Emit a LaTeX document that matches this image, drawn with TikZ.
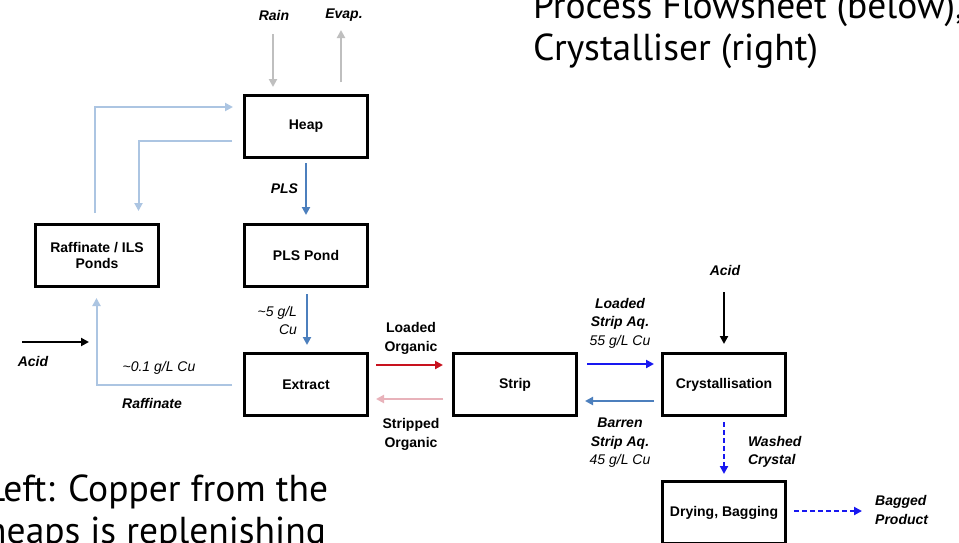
\documentclass[tikz,border=0pt]{standalone}
\usepackage{fontspec}
\setmainfont{Liberation Sans}
\newfontfamily\slidefont{PT Sans}
\usepackage{tikz}
\usetikzlibrary{positioning,arrows.meta,calc}
\usepackage{xcolor}
\definecolor{feedgray}{RGB}{191,191,191}
\definecolor{recyclblue}{RGB}{172,197,226}
\definecolor{plsblue}{RGB}{76,127,189}
\definecolor{orgred}{RGB}{200,18,30}
\definecolor{orgpink}{RGB}{232,178,186}
\definecolor{aqblue}{RGB}{24,24,240}
\tikzset{
  unit/.style={rectangle,draw,line width=3pt,minimum width=123pt,minimum height=62pt,
    inner sep=2pt,align=center,font=\fontsize{14}{16.5}\selectfont\bfseries},
  tag/.style={inner sep=0pt,align=center,text=black,font=\fontsize{14}{18.5}\selectfont\bfseries\itshape},
  val/.style={inner sep=0pt,align=center,text=black,font=\fontsize{14}{18.5}\selectfont\itshape},
  flow/.style={-{Triangle[length=8pt,width=8pt]},line width=2pt},
  slide/.style={inner sep=0pt,anchor=base west,font=\slidefont\fontsize{37.5}{43}\selectfont}
}
\begin{document}
\begin{tikzpicture}[x=1pt,y=-1pt]
\clip (0,0) rectangle (959,542);
\fill[white] (0,0) rectangle (959,542);
% slide text, cut by the frame
\node[slide] (ttl1) at (533,18) {Process Flowsheet (below),};
\node[slide] (ttl2) at (533,60) {Crystalliser (right)};
\node[slide] (lft1) at (-14,501) {Left: Copper from the};
\node[slide] (lft2) at (-14,543) {heaps is replenishing};
% units
\node[unit] (heap) at (306,126.5) {Heap};
\node[unit,below=64pt of heap] (plspond) {PLS Pond};
\node[unit,left=83pt of plspond] (raf) {Raffinate / ILS\\Ponds};
\node[unit,below=64pt of plspond] (extract) {Extract};
\node[unit,right=83pt of extract] (strip) {Strip};
\node[unit,right=83pt of strip] (cryst) {Crystallisation};
\node[unit,below=63pt of cryst] (drying) {Drying, Bagging};
% free ends
\coordinate (rainin) at (273,34);
\coordinate (evapout) at (341,30);
\coordinate (acidin) at (22,342);
\coordinate (acidend) at (89,342);
\coordinate (acidtop) at ([yshift=60pt]cryst.north);
\coordinate (bagend) at ([xshift=75pt,yshift=1.5pt]drying.east);
% heap water balance
\node[tag] (rain) at (274,15) {Rain};
\node[tag] (evap) at (344,15) {Evap.};
\draw[flow,feedgray] (rainin) -- (rainin |- 0,87);
\draw[flow,feedgray] (evapout |- 0,82) -- (evapout);
% leach circuit
\draw[flow,recyclblue] ([xshift=-2.5pt,yshift=10pt]raf.north) |- ([xshift=-10pt,yshift=19.5pt]heap.west);
\draw[flow,recyclblue] ([xshift=-11pt,yshift=-14.5pt]heap.west) -| ([xshift=41.5pt,yshift=12pt]raf.north);
\draw[flow,plsblue] ([yshift=-4pt]heap.south) -- node[tag,anchor=east,xshift=-7pt]{PLS} ([yshift=8pt]plspond.north);
\draw[flow,plsblue] ([xshift=1pt,yshift=-6pt]plspond.south) -- node[val,anchor=east,align=right,xshift=-9pt,yshift=-1pt]{\textasciitilde5 g/L\\Cu} ([xshift=1pt,yshift=7pt]extract.north);
\draw[flow,recyclblue] ([xshift=-11pt]extract.west) -| ([xshift=-0.5pt,yshift=-10pt]raf.south);
\node[val] (rafcu) at (159,368) {\textasciitilde0.1 g/L Cu};
\node[tag] (raflbl) at (152,403) {Raffinate};
\draw[flow,black] (acidin) -- (acidend);
\node[tag] (acidl) at (33,361) {Acid};
% organic loop
\draw[flow,orgred] ([xshift=7pt,yshift=19.5pt]extract.east) -- ([xshift=-9pt,yshift=19.5pt]strip.west);
\draw[flow,orgpink] ([xshift=-9pt,yshift=-14.5pt]strip.west) -- ([xshift=7pt,yshift=-14.5pt]extract.east);
\node[tag,font=\fontsize{14}{19}\selectfont\bfseries] (lorg) at (411,338) {Loaded\\Organic};
\node[tag,font=\fontsize{14}{19}\selectfont\bfseries] (sorg) at (411,434) {Stripped\\Organic};
% strip liquor loop
\draw[flow,aqblue] ([xshift=9pt,yshift=20.5pt]strip.east) -- ([xshift=-7pt,yshift=20.5pt]cryst.west);
\draw[flow,plsblue] ([xshift=-7pt,yshift=-16.5pt]cryst.west) -- ([xshift=7pt,yshift=-16.5pt]strip.east);
\node[tag] (laq) at (620,323) {Loaded\\Strip Aq.\\\normalfont\itshape 55 g/L Cu};
\node[tag] (baq) at (620,443) {Barren\\Strip Aq.\\\normalfont\itshape 45 g/L Cu};
% crystalliser
\node[tag] (acidc) at (725,270) {Acid};
\draw[flow,black] (acidtop) -- ([yshift=8pt]cryst.north);
\draw[flow,aqblue,dash pattern=on 5pt off 3pt] ([yshift=-5pt]cryst.south) -- node[tag,anchor=west,align=left,xshift=23pt,yshift=-4pt]{Washed\\Crystal} ([yshift=6pt]drying.north);
\draw[flow,aqblue,dash pattern=on 5pt off 3pt] ([xshift=7pt,yshift=1.5pt]drying.east) -- (bagend);
\node[tag,anchor=west,align=left] (bagged) at (875,510) {Bagged\\Product};
\end{tikzpicture}
\end{document}
